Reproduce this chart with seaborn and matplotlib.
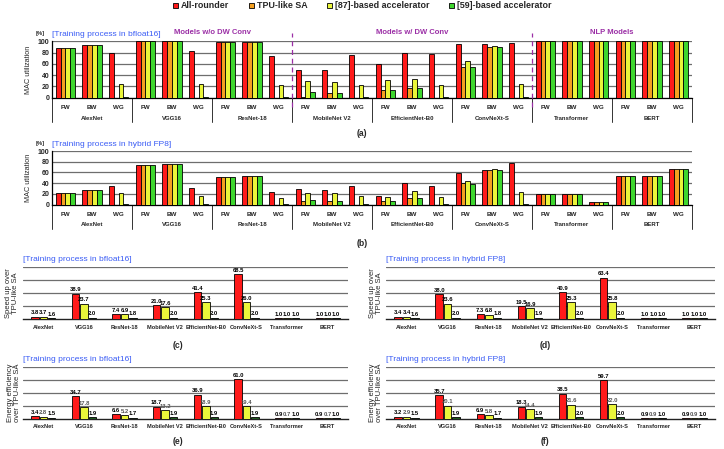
import matplotlib
matplotlib.use("Agg")
import matplotlib.pyplot as plt
import matplotlib.transforms as mtransforms
import seaborn as sns
import pandas as pd

sns.set_style("white")
plt.rcParams['font.family'] = ['Liberation Sans', 'DejaVu Sans']
plt.rcParams['font.weight'] = 'bold'

# ---------------- data ----------------
models = ["AlexNet", "VGG16", "ResNet-18", "MobileNet V2", "EfficientNet-B0",
          "ConvNeXt-S", "Transformer", "BERT"]
phases = ["FW", "BW", "WG"]
accels = ["All-rounder", "TPU-like SA", "[87]-based accelerator", "[59]-based accelerator"]
accels3 = ["All-rounder", "[87]-based accelerator", "[59]-based accelerator"]

# MAC utilization [%], bfloat16 (model-major: FW, BW, WG)
allrounder_bf16 = [88, 93, 80, 100, 100, 83, 98, 98, 74, 49, 49, 76,
                   59, 80, 78, 95, 96, 97, 100, 100, 100, 100, 100, 100]
tpu_bf16 = [88, 93, 0, 100, 100, 0, 98, 98, 0, 2, 8, 0,
            14, 17, 0, 54, 90, 0, 100, 100, 100, 100, 100, 100]
acc87_bf16 = [88, 93, 24, 100, 100, 24, 98, 98, 23, 30, 28, 22,
              31, 34, 22, 65, 92, 24, 100, 100, 100, 100, 100, 100]
acc59_bf16 = [88, 93, 1, 100, 100, 1, 98, 98, 1, 10, 9, 1,
              14, 18, 1, 55, 90, 1, 100, 100, 100, 100, 100, 100]

# MAC utilization [%], hybrid FP8
allrounder_fp8 = [21, 27, 35, 73, 75, 32, 51, 53, 23, 29, 28, 35,
                  17, 40, 34, 59, 64, 77, 19, 19, 5, 54, 54, 66]
tpu_fp8 = [21, 27, 0, 73, 75, 0, 51, 53, 0, 6, 6, 0,
           7, 12, 0, 40, 65, 0, 19, 19, 5, 54, 54, 66]
acc87_fp8 = [21, 27, 22, 73, 75, 16, 51, 53, 12, 22, 22, 16,
             15, 25, 14, 45, 67, 23, 19, 19, 5, 54, 54, 66]
acc59_fp8 = [21, 27, 1, 73, 75, 1, 51, 53, 1, 8, 7, 1,
             7, 12, 1, 39, 65, 1, 19, 19, 5, 54, 54, 66]

# Speed-up over TPU-like SA
speed_bf16_allr = [3.8, 38.9, 7.4, 21.0, 41.4, 68.5, 1.0, 1.0]
speed_bf16_87 = [3.7, 23.7, 6.9, 17.6, 25.3, 26.0, 1.0, 1.0]
speed_bf16_59 = [1.6, 2.0, 1.8, 2.0, 2.0, 2.0, 1.0, 1.0]
speed_fp8_allr = [3.4, 38.0, 7.3, 19.5, 40.9, 63.4, 1.0, 1.0]
speed_fp8_87 = [3.4, 23.6, 6.8, 16.9, 25.3, 25.8, 1.0, 1.0]
speed_fp8_59 = [1.6, 2.0, 1.8, 1.9, 2.0, 2.0, 1.0, 1.0]

# Energy efficiency over TPU-like SA
energy_bf16_allr = [3.4, 34.7, 6.6, 18.7, 36.9, 61.0, 0.9, 0.9]
energy_bf16_87 = [2.8, 17.8, 5.2, 13.2, 18.9, 19.4, 0.7, 0.7]
energy_bf16_59 = [1.5, 1.9, 1.7, 1.9, 1.9, 1.9, 1.0, 1.0]
energy_fp8_allr = [3.2, 35.7, 6.9, 18.3, 38.5, 59.7, 0.9, 0.9]
energy_fp8_87 = [2.9, 20.1, 5.8, 14.4, 21.6, 22.0, 0.9, 0.9]
energy_fp8_59 = [1.5, 1.9, 1.7, 1.9, 2.0, 2.0, 1.0, 1.0]

colors4 = ["#ff1a1a", "#f5a020", "#eaf53a", "#3ed62e"]
colors3 = ["#ff1a1a", "#eaf53a", "#1f5a1f"]

slots = [f"{m}|{p}" for m in models for p in phases]


def util_df(series):
    rows = []
    for acc, vals in zip(accels, series):
        for s, v in zip(slots, vals):
            rows.append({"slot": s, "accel": acc, "val": v})
    return pd.DataFrame(rows)


def ratio_df(series):
    rows = []
    for acc, vals in zip(accels3, series):
        for m, v in zip(models, vals):
            rows.append({"model": m, "accel": acc, "val": v})
    return pd.DataFrame(rows)


W, H = 724, 449
fig = plt.figure(figsize=(W / 100, H / 100), dpi=100)


def px_axes(left, right, top, bottom):
    return fig.add_axes([left / W, 1 - bottom / H, (right - left) / W, (bottom - top) / H])


BLUE = "#3a5cf5"
PURPLE = "#9b2fa6"
GRID = "#6e6e6e"


def util_panel(ax, series, title, name_y, line_y, with_legend=False):
    df = util_df(series)
    sns.barplot(data=df, x="slot", y="val", hue="accel", order=slots, hue_order=accels,
                palette=colors4, width=0.72, edgecolor="black", linewidth=0.6,
                saturation=1, errorbar=None, ax=ax, legend=with_legend, zorder=3)
    ax.set_ylim(0, 100)
    ax.set_xlim(-0.5, len(slots) - 0.5)
    ax.set_yticks([0, 20, 40, 60, 80, 100])
    ax.yaxis.grid(True, color=GRID, lw=0.9, zorder=0)
    ax.set_axisbelow(True)
    ax.set_xticks(range(len(slots)))
    ax.set_xticklabels(phases * len(models))
    ax.tick_params(axis='x', length=0, labelsize=4.5, pad=5)
    ax.tick_params(axis='y', length=0, labelsize=5, pad=2)
    ax.set_xlabel("")
    ax.set_ylabel("MAC utilization", fontsize=5.2)
    ax.yaxis.set_label_coords(-0.031, 0.5)
    for sp in ["top", "right"]:
        ax.spines[sp].set_visible(False)
    for sp in ["left", "bottom"]:
        ax.spines[sp].set_color("black")
        ax.spines[sp].set_linewidth(0.9)
    trans = mtransforms.blended_transform_factory(ax.transData, ax.transAxes)
    for i, m in enumerate(models):
        ax.text(3 * i + 1, name_y, m, transform=trans, ha="center", va="center", fontsize=4.3)
    for b in range(len(models) + 1):
        ax.plot([3 * b - 0.5, 3 * b - 0.5], [0, line_y], transform=trans,
                color="#333333", lw=0.7, clip_on=False)
    ax.text(0, 1.12, title, transform=ax.transAxes, ha="left", va="center",
            fontsize=6, color=BLUE, fontweight="normal")
    ax.text(-0.011, 1.14, "[%]", transform=ax.transAxes, ha="right", va="center", fontsize=4.2)


def ratio_panel(ax, series, title, ylabel, label_x, gray_mid=False):
    df = ratio_df(series)
    sns.barplot(data=df, x="model", y="val", hue="accel", order=models, hue_order=accels3,
                palette=colors3, width=0.62, gap=0.12, edgecolor="black", linewidth=0.6,
                saturation=1, errorbar=None, ax=ax, legend=False, zorder=3)
    ax.set_ylim(0, 80)
    ax.set_xlim(-0.5, len(models) - 0.5)
    ax.set_yticks([20, 40, 60, 80])
    ax.set_yticklabels([])
    ax.yaxis.grid(True, color=GRID, lw=0.9, zorder=0)
    ax.set_axisbelow(True)
    ax.tick_params(axis='x', length=0, labelsize=4.1, pad=4)
    ax.tick_params(axis='y', length=0)
    ax.set_xlabel("")
    ax.set_ylabel(ylabel, fontsize=5.5, linespacing=1.0)
    ax.yaxis.set_label_coords(label_x, 0.5)
    for sp in ["top", "right", "left"]:
        ax.spines[sp].set_visible(False)
    ax.spines["bottom"].set_color("#222222")
    ax.spines["bottom"].set_linewidth(1.0)
    for k, cont in enumerate(ax.containers):
        col = "#555555" if (gray_mid and k == 1) else "black"
        ax.bar_label(cont, fmt="%.1f", fontsize=4.2, padding=1, color=col)
    ax.text(0, 1.14, title, transform=ax.transAxes, ha="left", va="center",
            fontsize=6, color=BLUE, fontweight="normal")


# (a)
ax_a = px_axes(52, 692, 41.3, 97.7)
util_panel(ax_a, [allrounder_bf16, tpu_bf16, acc87_bf16, acc59_bf16],
           "[Training process in bfloat16]", -0.36, -0.43, with_legend=True)
handles, labels = ax_a.get_legend_handles_labels()
ax_a.get_legend().remove()
fig.legend(handles, labels, loc="center", bbox_to_anchor=(362 / W, 1 - 6 / H), ncol=4,
           frameon=False, fontsize=6.4, handlelength=0.6, handleheight=0.6,
           handletextpad=0.3, columnspacing=2.2, borderaxespad=0)
ax_a.text(0.25, 1.15, "Models w/o DW Conv", transform=ax_a.transAxes, ha="center",
          va="center", fontsize=5.5, color=PURPLE)
ax_a.text(0.5625, 1.15, "Models w/ DW Conv", transform=ax_a.transAxes, ha="center",
          va="center", fontsize=5.5, color=PURPLE)
ax_a.text(0.875, 1.15, "NLP Models", transform=ax_a.transAxes, ha="center",
          va="center", fontsize=5.5, color=PURPLE)
trans_a = mtransforms.blended_transform_factory(ax_a.transData, ax_a.transAxes)
for xb in [8.5, 17.5]:
    ax_a.plot([xb, xb], [-0.165, 1.15], transform=trans_a, color=PURPLE, lw=0.9,
              ls=(0, (4, 3)), clip_on=False, zorder=5)
fig.text(362 / W, 1 - 134 / H, "(a)", ha="center", va="center", fontsize=6.2)

# (b)
ax_b = px_axes(52, 692, 151, 204.7)
util_panel(ax_b, [allrounder_fp8, tpu_fp8, acc87_fp8, acc59_fp8],
           "[Training process in hybrid FP8]", -0.378, -0.46)
fig.text(362 / W, 1 - 243 / H, "(b)", ha="center", va="center", fontsize=6.2)

# (c)
ax_c = px_axes(23, 348, 266.7, 319)
ratio_panel(ax_c, [speed_bf16_allr, speed_bf16_87, speed_bf16_59],
            "[Training process in bfloat16]", "Speed up over\nTPU-like SA", -0.013)
fig.text(178 / W, 1 - 345 / H, "(c)", ha="center", va="center", fontsize=6.2)

# (d)
ax_d = px_axes(386, 715, 266.7, 319)
ratio_panel(ax_d, [speed_fp8_allr, speed_fp8_87, speed_fp8_59],
            "[Training process in hybrid FP8]", "Speed up over\nTPU-like SA", -0.009)
fig.text(545 / W, 1 - 345 / H, "(d)", ha="center", va="center", fontsize=6.2)

# (e)
ax_e = px_axes(23, 348, 366.7, 418.7)
ratio_panel(ax_e, [energy_bf16_allr, energy_bf16_87, energy_bf16_59],
            "[Training process in bfloat16]", "Energy efficiency\nover TPU-like SA", -0.006,
            gray_mid=True)
fig.text(178 / W, 1 - 442 / H, "(e)", ha="center", va="center", fontsize=6.2)

# (f)
ax_f = px_axes(386, 715, 366.7, 418.7)
ratio_panel(ax_f, [energy_fp8_allr, energy_fp8_87, energy_fp8_59],
            "[Training process in hybrid FP8]", "Energy efficiency\nover TPU-like SA", -0.009,
            gray_mid=True)
fig.text(545 / W, 1 - 442 / H, "(f)", ha="center", va="center", fontsize=6.2)

fig.savefig("out.png", dpi=100)
